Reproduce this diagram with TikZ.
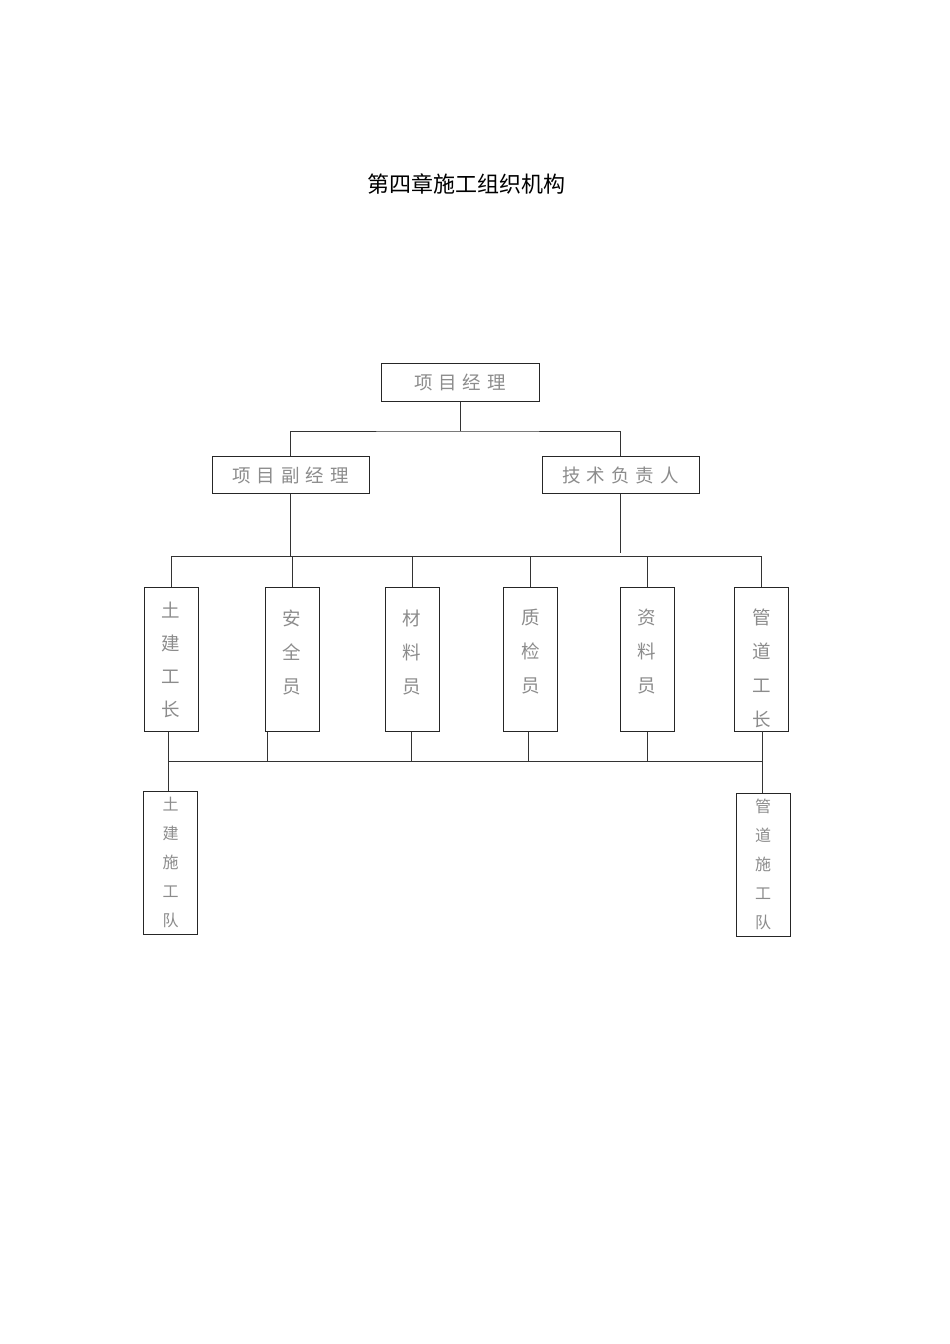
\documentclass[tikz,border=0pt]{standalone}
\usepackage{fontspec}
\setmainfont{Noto Sans CJK SC}
\usetikzlibrary{calc}
\tikzset{
  box/.style={draw=black!85, line width=1pt, inner sep=0pt, text=black!45},
  hbox/.style={box, minimum width=157pt, minimum height=37pt, font=\fontsize{18.5pt}{20pt}\selectfont},
  vbox/.style={box, minimum width=54pt, minimum height=144pt},
  vtxt/.style={align=center, text=black!45, inner sep=0pt, font=\fontsize{18.5pt}{34pt}\selectfont},
  tbox/.style={box, minimum width=54pt, minimum height=143pt},
  ttxt/.style={align=center, text=black!45, inner sep=0pt, font=\fontsize{16pt}{29pt}\selectfont},
  conn/.style={draw=black!80, line width=0.9pt},
}
\newcommand{\gp}{\hspace{6pt}}
\begin{document}
\begin{tikzpicture}[x=1pt,y=-1pt]
\useasboundingbox (0,0) rectangle (950,1344);
\fill[white] (0,0) rectangle (950,1344);
\node[font=\fontsize{22pt}{24pt}\selectfont, text=black] (title) at (466,184) {第四章施工组织机构};

\node[hbox, minimum width=158pt, minimum height=38pt] (pm) at (460,382) {项\gp 目\gp 经\gp 理};
\node[hbox] (dpm) at (290.5,475) {项\gp 目\gp 副\gp 经\gp 理};
\node[hbox] (tech) at (620.5,475) {技\gp 术\gp 负\gp 责\gp 人};

\node[vbox] (b1) at (171,659) {};
\node[vbox] (b2) at (292,659) {};
\node[vbox] (b3) at (412,659) {};
\node[vbox] (b4) at (530.5,659) {};
\node[vbox] (b5) at (647,659) {};
\node[vbox] (b6) at (761.5,659) {};
\node[vtxt, font=\fontsize{18.5pt}{33pt}\selectfont] (b1t) at ($(b1.center)+(0,1)$) {土\\建\\工\\长};
\node[vtxt] (b2t) at ($(b2.center)+(0,-7)$) {安\\全\\员};
\node[vtxt] (b3t) at ($(b3.center)+(0,-7)$) {材\\料\\员};
\node[vtxt] (b4t) at ($(b4.center)+(0,-7)$) {质\\检\\员};
\node[vtxt] (b5t) at ($(b5.center)+(0,-7)$) {资\\料\\员};
\node[vtxt] (b6t) at ($(b6.center)+(0,9)$) {管\\道\\工\\长};

\node[tbox] (t1) at (170.5,862.5) {};
\node[tbox] (t2) at (763,864.5) {};
\node[ttxt] (t1t) at (t1.center) {土\\建\\施\\工\\队};
\node[ttxt] (t2t) at (t2.center) {管\\道\\施\\工\\队};

% top level
\coordinate (j1) at (460,431);
\draw[conn] (pm.south) -- (j1);
\draw[conn] (dpm.north) |- (j1) -| (tech.north);

% middle bus
\coordinate (m) at (0,556);
\draw[conn] (dpm.south) -- (dpm.south |- m);
\draw[conn] (tech.south) -- ($(tech.south |- m)+(0,-3)$);
\draw[conn] (b1.north) -- (b1.north |- m) -- (b6.north |- m) -- (b6.north);
\foreach \b in {b2,b3,b4,b5} { \draw[conn] (\b.north) -- (\b.north |- m); }

% bottom bus
\coordinate (n) at (0,761);
\coordinate (c1) at ($(b1.south)+(-3,0)$);
\coordinate (c2) at ($(b2.south west)+(3,0)$);
\coordinate (c3) at ($(b3.south)+(-1,0)$);
\coordinate (c4) at ($(b4.south)+(-2.5,0)$);
\coordinate (c5) at (b5.south);
\coordinate (c6) at (762,731);
\draw[conn] (c1) -- (t1.north -| c1);
\draw[conn] (c1 |- n) -- (c6 |- n);
\draw[conn] (c6) -- (t2.north -| c6);
\foreach \c in {c2,c3,c4,c5} { \draw[conn] (\c) -- (\c |- n); }
\end{tikzpicture}
\end{document}
